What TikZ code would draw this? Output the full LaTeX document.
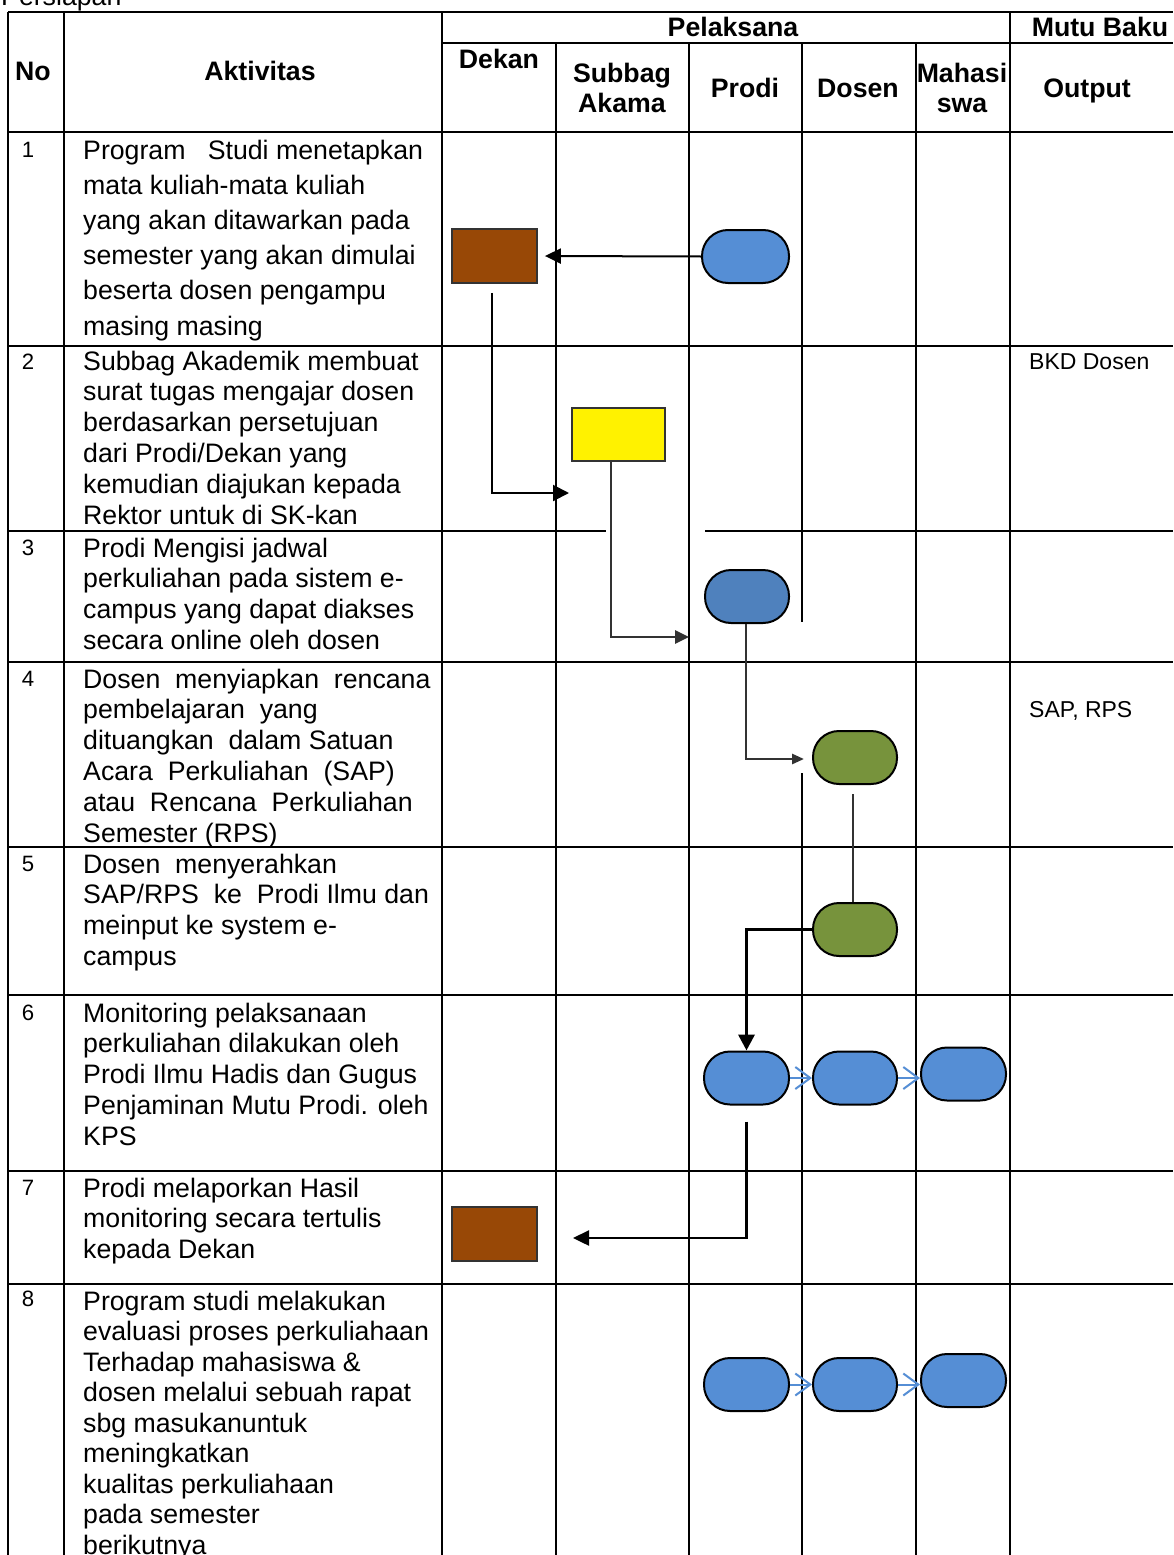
\documentclass[tikz,border=0pt]{standalone}
\usepackage{fontspec}
\setmainfont{Liberation Sans}
\usetikzlibrary{arrows.meta,calc}
\definecolor{brownbox}{RGB}{152,72,6}
\definecolor{bluepill}{RGB}{85,142,213}
\definecolor{bluepillb}{RGB}{79,129,189}
\definecolor{greenpill}{RGB}{119,147,60}
\definecolor{darkline}{RGB}{50,50,50}
\newcommand\fsbody{\fontsize{26.7}{30.8}\selectfont}
\newcommand\fsbodyA{\fontsize{26.7}{35.2}\selectfont}
\newcommand\fsbodyB{\fontsize{26.7}{30.5}\selectfont}
\newcommand\fshead{\fontsize{26.7}{30}\selectfont\bfseries}
\newcommand\fsnum{\fontsize{22.2}{26}\selectfont}
\newcommand\fsout{\fontsize{23}{27}\selectfont}
\tikzset{
  gridline/.style={line width=1.4pt, black},
  headtext/.style={anchor=base, inner sep=0pt, font=\fshead},
  numtext/.style={anchor=base, inner sep=0pt, font=\fsnum},
  rowtext/.style={anchor=base west, inner sep=0pt},
  outtext/.style={anchor=base west, inner sep=0pt, font=\fsout},
  rbox/.style={draw=black!80, line width=1.8pt, minimum width=85pt, minimum height=54pt, inner sep=0pt},
  pill/.style={draw=black, line width=2pt, minimum width=85pt, minimum height=53pt, rounded corners=26pt, inner sep=0pt},
  flowA/.style={draw=black, line width=2pt},
  flowB/.style={draw=darkline, line width=2.6pt},
  flowC/.style={draw=black, line width=3.4pt},
  bluearr/.style={draw=bluepill, line width=2pt, -{Straight Barb[length=15pt,width=22pt]}},
}
\begin{document}
\begin{tikzpicture}[x=1pt,y=-1pt]
\useasboundingbox (0,0) rectangle (1173,1555);
\fill[white] (0,0) rectangle (1173,1555);

% caption cut at the top
\node[anchor=base west, inner sep=0pt, font=\fsbody] (cap) at (1,6) {Persiapan};

% grid
\draw[gridline] (8,12) -- (1173,12);
\draw[gridline] (442,43) -- (1173,43);
\foreach \y in {132,346,662,847,995,1171,1284} \draw[gridline] (8,\y) -- (1173,\y);
\draw[gridline] (8,531) -- (606,531);
\draw[gridline] (705,531) -- (1173,531);
\foreach \x in {8,64,442,1010} \draw[gridline] (\x,12) -- (\x,1555);
\foreach \x in {556,689,916} \draw[gridline] (\x,43) -- (\x,1555);
\draw[gridline] (802,43) -- (802,622);
\draw[gridline] (802,773) -- (802,1555);

% header
\node[headtext] (hno) at (33,81) {No};
\node[headtext] (hakt) at (260,81) {Aktivitas};
\node[headtext] (hpel) at (733,37) {Pelaksana};
\node[headtext] (hmutu) at (1100,37) {Mutu Baku};
\node[headtext] (hdekan) at (499,69) {Dekan};
\node[headtext] (hsub1) at (622,82) {Subbag};
\node[headtext] (hsub2) at (622,112) {Akama};
\node[headtext] (hprodi) at (745,97) {Prodi};
\node[headtext] (hdosen) at (858,97) {Dosen};
\node[headtext] (hmhs1) at (962,82) {Mahasi};
\node[headtext] (hmhs2) at (962,112) {swa};
\node[headtext] (hout) at (1087,97) {Output};

% numbers
\node[numtext] (n1) at (28,157) {1};
\node[numtext] (n2) at (28,369) {2};
\node[numtext] (n3) at (28,555) {3};
\node[numtext] (n4) at (28,686) {4};
\node[numtext] (n5) at (28,871) {5};
\node[numtext] (n6) at (28,1020) {6};
\node[numtext] (n7) at (28,1195) {7};
\node[numtext] (n8) at (28,1306) {8};

% activities
\node[rowtext] (a1) at (83,159) {\parbox[t]{370pt}{\fsbodyA\raggedright Program~~~Studi menetapkan\\mata kuliah-mata kuliah\\yang akan ditawarkan pada\\semester yang akan dimulai\\beserta dosen pengampu\\masing masing}};
\node[rowtext] (a2) at (83,370) {\parbox[t]{370pt}{\fsbody\raggedright Subbag Akademik membuat\\surat tugas mengajar dosen\\berdasarkan persetujuan\\dari Prodi/Dekan yang\\kemudian diajukan kepada\\Rektor untuk di SK-kan}};
\node[rowtext] (a3) at (83,557) {\parbox[t]{370pt}{\fsbody\raggedright Prodi Mengisi jadwal\\perkuliahan pada sistem e-\\campus yang dapat diakses\\secara online oleh dosen}};
\node[rowtext] (a4) at (83,688) {\parbox[t]{370pt}{\fsbody\raggedright Dosen~~menyiapkan~~rencana\\pembelajaran~~yang\\dituangkan~~dalam Satuan\\Acara~~Perkuliahan~~(SAP)\\atau~~Rencana~~Perkuliahan\\Semester (RPS)}};
\node[rowtext] (a5) at (83,873) {\parbox[t]{370pt}{\fsbody\raggedright Dosen~~menyerahkan\\SAP/RPS~~ke~~Prodi Ilmu dan\\meinput ke system e-\\campus}};
\node[rowtext] (a6) at (83,1022) {\parbox[t]{370pt}{\fsbody\raggedright Monitoring pelaksanaan\\perkuliahan dilakukan oleh\\Prodi Ilmu Hadis dan Gugus\\Penjaminan Mutu Prodi. oleh\\KPS}};
\node[rowtext] (a7) at (83,1197) {\parbox[t]{370pt}{\fsbody\raggedright Prodi melaporkan Hasil\\monitoring secara tertulis\\kepada Dekan}};
\node[rowtext] (a8) at (83,1310) {\parbox[t]{370pt}{\fsbodyB\raggedright Program studi melakukan\\evaluasi proses perkuliahaan\\Terhadap mahasiswa \&\\dosen melalui sebuah rapat\\sbg masukanuntuk\\meningkatkan\\kualitas perkuliahaan\\pada semester\\berikutnya}};

% outputs
\node[outtext] (o2) at (1029,369) {BKD Dosen};
\node[outtext] (o4) at (1029,717) {SAP, RPS};

% shapes
\node[rbox, fill=brownbox] (d1) at (494.5,256) {};
\node[pill, fill=bluepill, minimum width=87pt] (p1) at (745.5,256.5) {};
\node[rbox, fill=yellow, minimum width=93pt, minimum height=53pt] (s2) at (618.5,434.5) {};
\node[pill, fill=bluepillb, minimum width=84pt] (p3) at (747,596.5) {};
\node[pill, fill=greenpill, minimum width=84pt] (g4) at (855,757.5) {};
\node[pill, fill=greenpill, minimum width=84pt] (g5) at (855,929.5) {};
\node[pill, fill=bluepill] (p6a) at (746.5,1078) {};
\node[pill, fill=bluepill, minimum width=84pt] (p6b) at (855,1078) {};
\node[pill, fill=bluepill] (p6c) at (963.5,1074) {};
\node[rbox, fill=brownbox] (d7) at (494.5,1234) {};
\node[pill, fill=bluepill] (p8a) at (746.5,1384.5) {};
\node[pill, fill=bluepill, minimum width=84pt] (p8b) at (855,1384.5) {};
\node[pill, fill=bluepill] (p8c) at (963.5,1380.5) {};

% connector end points
\coordinate (t1) at (569,493);
\coordinate (t2) at (689,637);
\coordinate (t3) at (804,759);
\coordinate (t7) at (573,1238);

% connectors
\draw[flowA, -{Triangle[length=16pt,width=15pt]}] (p1.west) -- ($(d1.east)+(7,0)$);
\draw[flowA, -{Triangle[length=16pt,width=16pt]}] ($(d1.south)+(-3,9)$) |- (t1);
\draw[flowB, -{Triangle[length=14pt,width=13pt]}] ($(s2.south)+(-7.5,0)$) |- (t2);
\draw[flowB, -{Triangle[length=12pt,width=10pt]}] ($(p3.south)+(-1,0)$) |- (t3);
\draw[flowB, line width=2.2pt] ($(g4.south)+(-2,9)$) -- ($(g5.north)+(-2,0)$);
\draw[flowC, -{Triangle[length=16pt,width=16pt]}] (g5.west) -| (p6a.north);
\draw[flowA, line width=2.4pt, -{Triangle[length=16pt,width=15pt]}] ($(p6a.south)+(0,16)$) |- (t7);
\draw[bluearr] (p6a.east) -- (p6b.west);
\draw[bluearr] (p6b.east) -- (p6b.east -| p6c.west);
\draw[bluearr] (p8a.east) -- (p8b.west);
\draw[bluearr] (p8b.east) -- (p8b.east -| p8c.west);
\end{tikzpicture}
\end{document}
